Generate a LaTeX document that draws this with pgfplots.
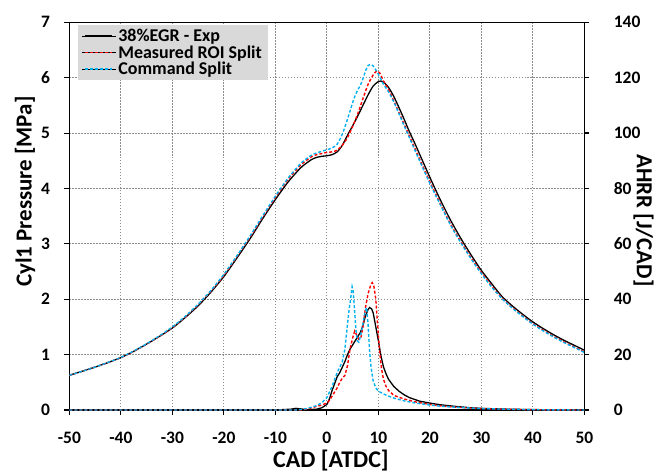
\documentclass[border=0pt]{standalone}
\usepackage{pgfplots}
\pgfplotsset{compat=1.18}
\usepackage{fontspec}
\setmainfont{Carlito}
\definecolor{cblue}{HTML}{00B0F0}
\definecolor{cred}{HTML}{FF0000}
\definecolor{lgray}{HTML}{D9D9D9}
\definecolor{ggray}{HTML}{8C8C8C}
\begin{document}
\begin{tikzpicture}
\pgfplotsset{
  base/.style={
    scale only axis, width=516bp, height=388.5bp,
    xmin=-50, xmax=50,
    tick align=outside, major tick length=5bp,
    axis line style={line width=1.3bp},
    every tick/.style={line width=1.1bp, black},
    /pgf/number format/assume math mode=true,
    tick label style={font=\fontsize{17.5bp}{20bp}\selectfont\bfseries},
  },
  blk/.style={black, line width=1.3bp},
  rdd/.style={cred, line width=1.4bp, dash pattern=on 3bp off 2bp},
  bld/.style={cblue, line width=1.4bp, dash pattern=on 3bp off 2bp},
}
\begin{axis}[base,
  ymin=0, ymax=7,
  xtick={-50,-40,-30,-20,-10,0,10,20,30,40,50},
  xticklabels={-50,-40,-30,-20,-10,0,10,20,30,40,50},
  ytick={0,1,2,3,4,5,6,7},
  xtick pos=bottom, ytick pos=left,
  xticklabel style={yshift=-14bp},
  yticklabel style={xshift=-11bp},
  grid=major,
  major grid style={ggray, line width=0.8bp, dash pattern=on 1.5bp off 1.5bp},
  xlabel={CAD [ATDC]},
  ylabel={Cyl1 Pressure [MPa]},
  every axis x label/.style={at={(axis description cs:0.508,-0.131)}, anchor=center, font=\fontsize{24bp}{26bp}\selectfont\bfseries},
  every axis y label/.style={at={(axis description cs:-0.086,0.563)}, anchor=center, rotate=90, font=\fontsize{23bp}{26bp}\selectfont\bfseries},
  legend style={at={(axis description cs:0.0165,0.993)}, anchor=north west,
    fill=lgray, draw=none, font=\fontsize{18bp}{21bp}\selectfont\bfseries,
    inner xsep=4bp, inner ysep=2bp, row sep=-1.5bp},
  legend cell align=left,
]
\addlegendimage{legend image code/.code={\path (-3bp,0bp) -- (31bp,0bp); \draw[black, line width=1.3bp] (0bp,0bp) -- (27bp,0bp);}}
\addlegendentry{38\%EGR - Exp}
\addlegendimage{legend image code/.code={\path (-3bp,0bp) -- (31bp,0bp); \draw[cred, line width=1.4bp, dash pattern=on 3bp off 2bp] (0bp,0bp) -- (27bp,0bp);}}
\addlegendentry{Measured ROI Split}
\addlegendimage{legend image code/.code={\path (-3bp,0bp) -- (31bp,0bp); \draw[cblue, line width=1.4bp, dash pattern=on 3bp off 2bp] (0bp,0bp) -- (27bp,0bp);}}
\addlegendentry{Command Split}
\addplot[blk, smooth, tension=0.4, forget plot] coordinates {
(-50,0.627) (-47.5,0.70) (-45,0.775) (-42.5,0.857) (-40,0.946) (-37.5,1.06) (-35,1.19) (-32.5,1.33) (-30,1.48)
(-27.5,1.67) (-25,1.88) (-22.5,2.13) (-20,2.41) (-17.5,2.74) (-15,3.08) (-12.5,3.45) (-10,3.80)
(-7.5,4.12) (-5,4.38) (-3,4.52) (-2,4.56) (-1,4.58) (0,4.59) (1,4.61) (2,4.66) (3,4.78) (4,4.96)
(5,5.13) (6,5.31) (7,5.50) (8,5.69) (9,5.85) (10,5.93) (10.5,5.94) (11,5.92) (12,5.82) (13,5.66)
(14,5.46) (15,5.25) (16,5.03) (17,4.83) (18,4.62) (19,4.41) (20,4.20) (22,3.80) (24,3.43) (26,3.10)
(28,2.80) (30,2.52) (32,2.28) (34,2.05) (36,1.88) (38,1.73) (40,1.59) (42,1.47) (44,1.36) (46,1.26)
(48,1.17) (50,1.08)
};
\addplot[rdd, smooth, tension=0.4, forget plot] coordinates {
(-50,0.627) (-47.5,0.70) (-45,0.775) (-42.5,0.857) (-40,0.946) (-37.5,1.06) (-35,1.19) (-32.5,1.33) (-30,1.49)
(-27.5,1.68) (-25,1.90) (-22.5,2.15) (-20,2.43) (-17.5,2.77) (-15,3.11) (-12.5,3.48) (-10,3.84)
(-7.5,4.17) (-5,4.43) (-3,4.57) (-2,4.61) (-1,4.63) (0,4.65) (1,4.66) (2,4.69) (3,4.78) (4,4.92)
(5,5.12) (6,5.35) (7,5.62) (8,5.88) (9,6.05) (9.7,6.12) (10.3,6.08) (11,5.94) (12,5.78) (13,5.58)
(14,5.37) (15,5.16) (16,4.95) (18,4.53) (20,4.12) (22,3.73) (24,3.36) (26,3.04) (28,2.75) (30,2.48)
(32,2.24) (34,2.02) (36,1.85) (38,1.70) (40,1.56) (42,1.44) (44,1.33) (46,1.23) (48,1.14) (50,1.05)
};
\addplot[bld, smooth, tension=0.4, forget plot] coordinates {
(-50,0.627) (-47.5,0.70) (-45,0.775) (-42.5,0.86) (-40,0.95) (-37.5,1.065) (-35,1.195) (-32.5,1.34) (-30,1.50)
(-27.5,1.69) (-25,1.91) (-22.5,2.16) (-20,2.45) (-17.5,2.78) (-15,3.13) (-12.5,3.50) (-10,3.86)
(-7.5,4.19) (-5,4.46) (-3,4.60) (-2,4.64) (-1,4.67) (0,4.70) (1,4.73) (2,4.80) (3,4.98) (4,5.25)
(5,5.55) (5.5,5.68) (6,5.78) (6.5,5.86) (7,5.98) (7.5,6.12) (8,6.22) (8.5,6.24) (9,6.21) (9.5,6.14)
(10,6.06) (10.5,5.97) (11,5.88) (12,5.74) (13,5.56) (14,5.35) (15,5.13) (16,4.92) (18,4.50) (20,4.09)
(22,3.71) (24,3.34) (26,3.02) (28,2.73) (30,2.46) (32,2.22) (34,2.01) (36,1.84) (38,1.69) (40,1.55)
(42,1.43) (44,1.32) (46,1.22) (48,1.13) (50,1.04)
};
\end{axis}
\begin{axis}[base,
  ymin=0, ymax=140,
  ytick={0,20,40,60,80,100,120,140},
  hide x axis, axis y line*=right,
  yticklabel style={xshift=21bp},
  ylabel={AHRR [J/CAD]},
  every axis y label/.style={at={(axis description cs:1.115,0.489)}, anchor=center, rotate=-90, font=\fontsize{23bp}{26bp}\selectfont\bfseries},
]
\addplot[blk] coordinates {
(-50,0) (-10,0) (-7,0.3) (-6,0.6) (-5,0.4) (-4,0.1) (-2,0.3) (-1,0.8) (0,2) (0.5,4) (1,7) (1.5,9.5)
(2,12) (2.5,13.5) (3,15.5) (3.5,17.5) (4,20) (4.5,22) (5,23.5) (5.5,25) (6,26.5) (6.5,28) (7,30.5)
(7.5,34) (8,36.3) (8.3,37) (8.7,36.5) (9,35) (9.5,30) (10,25) (10.5,19.5) (11,15.5) (11.5,13) (12,11)
(13,8.5) (14,6.8) (15,5.5) (16,4.5) (18,3.2) (20,2.5) (22,1.9) (25,1.3) (28,0.8) (30,0.6) (35,0.3)
(40,0.15) (50,0)
};
\addplot[rdd] coordinates {
(-50,0) (-5,0) (-4,0.3) (-3,0.8) (-2,1.3) (-1,1.8) (0,2.5) (0.5,3.5) (1,5) (1.5,6.5) (2,8) (2.5,10)
(3,11.5) (3.5,12.5) (4,16) (4.5,22) (5,26) (5.4,28.5) (5.8,27) (6.2,25.5) (6.6,26) (7,30) (7.5,37)
(8,42) (8.5,45) (8.8,46) (9.1,45) (9.5,40) (9.8,32) (10.2,22) (10.6,15) (11,11) (11.5,8.5) (12,7)
(13,5.3) (14,4.6) (15,4) (17,3) (20,2) (22,1.5) (25,1) (30,0.5) (35,0.3) (40,0.1) (50,0)
};
\addplot[bld] coordinates {
(-50,0) (-6,0) (-5,0.2) (-4,0.5) (-3,1.0) (-2,1.6) (-1,2.6) (0,4.5) (0.5,6.5) (1,8.5) (1.5,11)
(2,13.5) (2.5,15.5) (3,17.5) (3.5,22) (4,31) (4.3,36) (4.6,40) (4.9,44.5) (5.1,43) (5.3,38) (5.6,30)
(5.9,25) (6.2,24.5) (6.5,26.5) (7,31) (7.4,35.5) (7.7,37) (8,31) (8.3,21) (8.6,15) (9,10.5) (9.5,8)
(10,6.8) (11,5.8) (12,5) (13,4.3) (15,3.3) (17,2.6) (20,1.8) (22,1.4) (25,1) (30,0.5) (35,0.3)
(40,0.1) (50,0)
};
\end{axis}
\path ([shift={(-69.5bp,-61.2bp)}]current axis.south west) rectangle ([shift={(71.5bp,22.3bp)}]current axis.north east);
\end{tikzpicture}
\end{document}
